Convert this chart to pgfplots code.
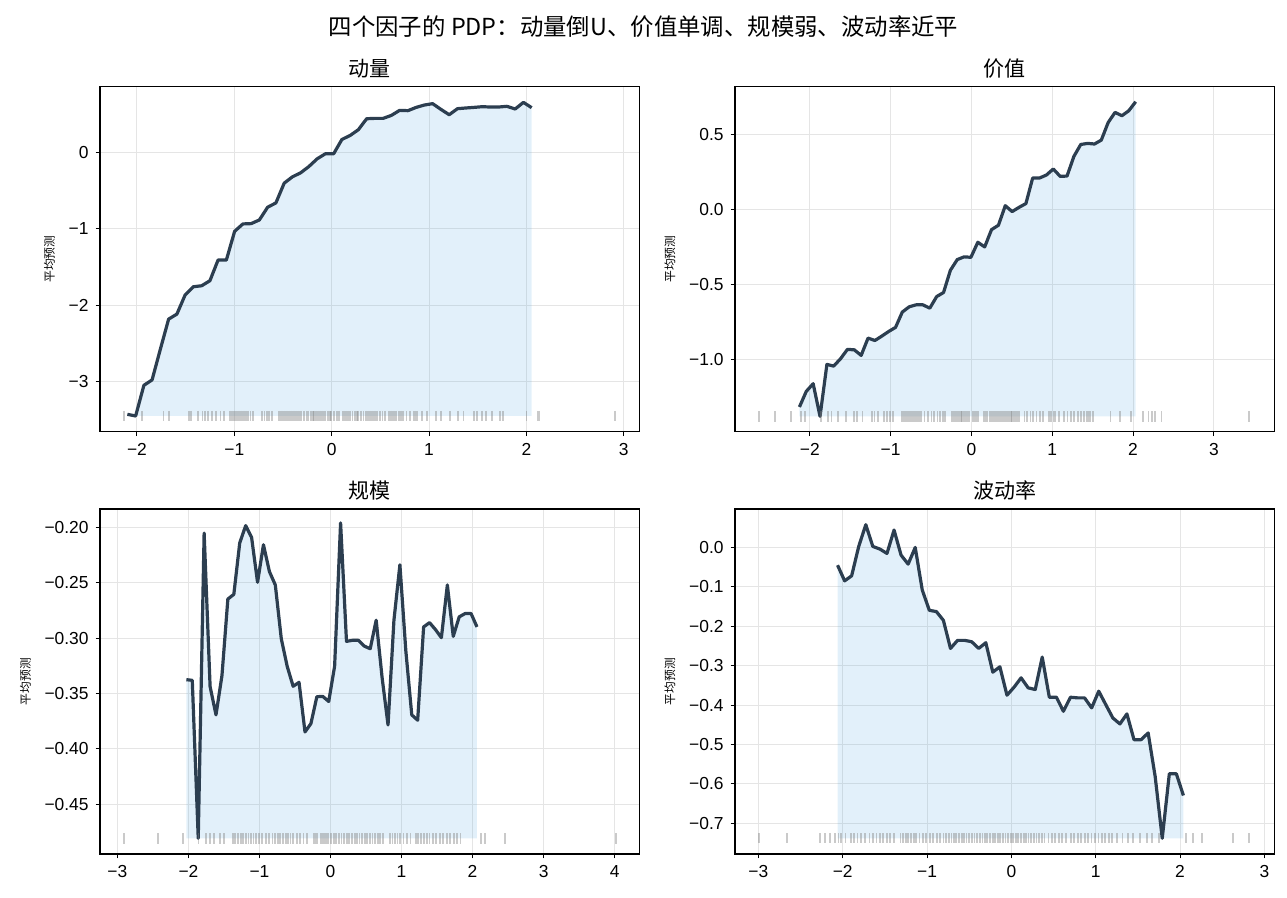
\documentclass[border=0pt]{standalone}
\usepackage{fontspec}
\setmainfont{Liberation Sans}
\newfontfamily\cjk{Noto Sans CJK SC}
\usepackage{pgfplots}
\pgfplotsset{compat=1.18}
\usepgfplotslibrary{fillbetween}
\usepackage{pgfplotstable}

\definecolor{linec}{HTML}{2C3E50}
\definecolor{fillc}{HTML}{3498DB}

\pgfplotstableread{
x y
-2.099 -3.434
-2.014 -3.456
-1.929 -3.053
-1.845 -2.982
-1.760 -2.579
-1.675 -2.184
-1.590 -2.118
-1.506 -1.868
-1.421 -1.759
-1.336 -1.746
-1.251 -1.680
-1.167 -1.408
-1.082 -1.408
-0.997 -1.031
-0.912 -0.934
-0.827 -0.930
-0.743 -0.882
-0.658 -0.715
-0.573 -0.658
-0.488 -0.399
-0.404 -0.316
-0.319 -0.263
-0.234 -0.180
-0.149 -0.079
-0.065 -0.013
0.020 -0.013
0.105 0.175
0.190 0.228
0.274 0.303
0.359 0.447
0.444 0.452
0.529 0.452
0.613 0.491
0.698 0.557
0.783 0.553
0.868 0.596
0.952 0.627
1.037 0.645
1.122 0.570
1.207 0.500
1.292 0.579
1.376 0.588
1.461 0.596
1.546 0.605
1.631 0.601
1.715 0.601
1.800 0.610
1.885 0.575
1.970 0.662
2.054 0.592
}\pa

\pgfplotstableread{
x y
-2.128 -1.314
-2.043 -1.210
-1.958 -1.159
-1.873 -1.376
-1.788 -1.031
-1.704 -1.042
-1.619 -0.993
-1.534 -0.931
-1.449 -0.934
-1.364 -0.971
-1.279 -0.856
-1.194 -0.872
-1.109 -0.843
-1.024 -0.812
-0.939 -0.785
-0.855 -0.683
-0.770 -0.648
-0.685 -0.635
-0.600 -0.635
-0.515 -0.657
-0.430 -0.580
-0.345 -0.553
-0.260 -0.405
-0.175 -0.334
-0.090 -0.316
-0.006 -0.319
0.079 -0.219
0.164 -0.250
0.249 -0.135
0.334 -0.106
0.419 0.024
0.504 -0.015
0.589 0.013
0.674 0.038
0.758 0.208
0.843 0.208
0.928 0.228
1.013 0.268
1.098 0.219
1.183 0.221
1.268 0.352
1.353 0.431
1.438 0.438
1.523 0.434
1.607 0.460
1.692 0.577
1.777 0.644
1.862 0.622
1.947 0.655
2.032 0.715
}\pb

\pgfplotstableread{
x y
-2.029 -0.3376
-1.946 -0.3382
-1.862 -0.4809
-1.779 -0.2052
-1.695 -0.3439
-1.612 -0.3694
-1.528 -0.3339
-1.445 -0.2648
-1.361 -0.2606
-1.278 -0.2142
-1.194 -0.1985
-1.111 -0.2091
-1.027 -0.2497
-0.944 -0.2158
-0.860 -0.2400
-0.777 -0.2521
-0.693 -0.3006
-0.610 -0.3255
-0.526 -0.3436
-0.443 -0.3400
-0.359 -0.3848
-0.276 -0.3773
-0.192 -0.3530
-0.109 -0.3527
-0.025 -0.3573
0.058 -0.3255
0.142 -0.1961
0.225 -0.3030
0.309 -0.3021
0.392 -0.3021
0.476 -0.3073
0.559 -0.3097
0.643 -0.2839
0.726 -0.3355
0.810 -0.3785
0.893 -0.2839
0.977 -0.2339
1.060 -0.3112
1.144 -0.3694
1.227 -0.3742
1.311 -0.2900
1.394 -0.2861
1.478 -0.2924
1.561 -0.2997
1.645 -0.2521
1.728 -0.2985
1.812 -0.2809
1.895 -0.2779
1.979 -0.2779
2.062 -0.2900
}\pc

\pgfplotstableread{
x y
-2.061 -0.0450
-1.977 -0.0848
-1.894 -0.0721
-1.810 0.0025
-1.726 0.0577
-1.643 0.0025
-1.559 -0.0042
-1.475 -0.0153
-1.391 0.0441
-1.308 -0.0195
-1.224 -0.0424
-1.140 0.0000
-1.057 -0.1077
-0.973 -0.1595
-0.889 -0.1628
-0.806 -0.1849
-0.722 -0.2562
-0.638 -0.2358
-0.554 -0.2358
-0.471 -0.2392
-0.387 -0.2562
-0.303 -0.2417
-0.220 -0.3164
-0.136 -0.3028
-0.052 -0.3749
0.032 -0.3545
0.115 -0.3308
0.199 -0.3562
0.283 -0.3605
0.366 -0.2782
0.450 -0.3800
0.534 -0.3800
0.617 -0.4156
0.701 -0.3800
0.785 -0.3817
0.868 -0.3817
0.952 -0.4071
1.036 -0.3647
1.119 -0.3986
1.203 -0.4326
1.287 -0.4478
1.370 -0.4224
1.454 -0.4877
1.538 -0.4877
1.622 -0.4707
1.705 -0.5810
1.789 -0.7379
1.873 -0.5742
1.956 -0.5742
2.040 -0.6293
}\pd

\pgfplotsset{
  pdp/.style={
    scale only axis, width=269.75pt, height=172.5pt, anchor=south west,
    axis line style={line width=0.6pt},
    tick align=outside, xtick pos=bottom, ytick pos=left,
    major tick length=2.2pt,
    tick style={line width=0.5pt, black},
    grid=major, grid style={black!10, line width=0.5pt},
    tick label style={font=\fontsize{8.7pt}{10pt}\selectfont},
    every axis title shift=0pt,
    title style={font=\cjk\fontsize{10.5pt}{12pt}\selectfont, at={(0.5,1)}, anchor=base, yshift=5.25pt},
    ylabel style={font=\cjk\fontsize{5.9pt}{7pt}\selectfont},
    ylabel={平均预测},
  },
  pdpline/.style={linec, line width=1.6pt, line join=round},
  rug/.style={only marks, mark=|, mark size=2.6pt, gray, opacity=0.42, mark options={line width=0.9pt}},
}

\begin{document}
\begin{tikzpicture}
\path (0,0) rectangle (643.5pt,449pt);
\node[font=\cjk\fontsize{11.7pt}{14pt}\selectfont, anchor=base] at (321.75pt,431.3pt) {四个因子的 PDP：动量倒U、价值单调、规模弱、波动率近平};

% Panel 1
\begin{axis}[pdp, at={(50pt,233.15pt)},
  xmin=-2.380, xmax=3.162, ymin=-3.662, ymax=0.868,
  xtick={-2,-1,0,1,2,3}, xticklabels={−2,−1,0,1,2,3},
  ytick={-3,-2,-1,0}, yticklabels={−3,−2,−1,0},
  title={动量}]
\addplot[draw=none, name path=la] table {\pa};
\addplot[draw=none, name path=ba] coordinates {(-2.099,-3.456) (2.054,-3.456)};
\addplot[fillc, fill opacity=0.14] fill between[of=la and ba];
\addplot[rug] coordinates {
(-2.135,-3.456) (-1.950,-3.456) (-1.727,-3.456) (-1.674,-3.456) (-1.462,-3.456) (-1.444,-3.456) (-1.373,-3.456) (-1.327,-3.456)
(-1.302,-3.456) (-1.274,-3.456) (-1.232,-3.456) (-1.189,-3.456) (-1.143,-3.456) (-1.108,-3.456) (-1.044,-3.456) (-1.026,-3.456)
(-1.001,-3.456) (-0.984,-3.456) (-0.966,-3.456) (-0.948,-3.456) (-0.931,-3.456) (-0.913,-3.456) (-0.895,-3.456) (-0.877,-3.456)
(-0.860,-3.456) (-0.835,-3.456) (-0.807,-3.456) (-0.718,-3.456) (-0.690,-3.456) (-0.665,-3.456) (-0.647,-3.456) (-0.612,-3.456)
(-0.541,-3.456) (-0.523,-3.456) (-0.506,-3.456) (-0.488,-3.456) (-0.470,-3.456) (-0.453,-3.456) (-0.435,-3.456) (-0.417,-3.456)
(-0.399,-3.456) (-0.382,-3.456) (-0.364,-3.456) (-0.346,-3.456) (-0.329,-3.456) (-0.311,-3.456) (-0.283,-3.456) (-0.258,-3.456)
(-0.240,-3.456) (-0.215,-3.456) (-0.194,-3.456) (-0.180,-3.456) (-0.159,-3.456) (-0.141,-3.456) (-0.116,-3.456) (-0.098,-3.456)
(-0.081,-3.456) (-0.063,-3.456) (-0.038,-3.456) (-0.017,-3.456) (-0.003,-3.456) (0.025,-3.456) (0.054,-3.456) (0.079,-3.456)
(0.114,-3.456) (0.132,-3.456) (0.149,-3.456) (0.167,-3.456) (0.192,-3.456) (0.213,-3.456) (0.238,-3.456) (0.256,-3.456)
(0.273,-3.456) (0.298,-3.456) (0.326,-3.456) (0.351,-3.456) (0.373,-3.456) (0.397,-3.456) (0.415,-3.456) (0.433,-3.456)
(0.450,-3.456) (0.468,-3.456) (0.493,-3.456) (0.521,-3.456) (0.550,-3.456) (0.592,-3.456) (0.610,-3.456) (0.627,-3.456)
(0.645,-3.456) (0.663,-3.456) (0.691,-3.456) (0.709,-3.456) (0.734,-3.456) (0.769,-3.456) (0.805,-3.456) (0.840,-3.456)
(0.858,-3.456) (0.875,-3.456) (0.928,-3.456) (0.975,-3.456) (1.070,-3.456) (1.123,-3.456) (1.212,-3.456) (1.300,-3.456)
(1.353,-3.456) (1.460,-3.456) (1.495,-3.456) (1.541,-3.456) (1.584,-3.456) (1.644,-3.456) (1.725,-3.456) (1.761,-3.456)
(2.001,-3.456) (2.115,-3.456) (2.132,-3.456) (2.911,-3.456)};
\addplot[pdpline] table {\pa};
\end{axis}

% Panel 2
\begin{axis}[pdp, at={(367.5pt,233.15pt)},
  xmin=-2.925, xmax=3.75, ymin=-1.478, ymax=0.815,
  xtick={-2,-1,0,1,2,3}, xticklabels={−2,−1,0,1,2,3},
  ytick={-1,-0.5,0,0.5}, yticklabels={−1.0,−0.5,0.0,0.5},
  title={价值}]
\addplot[draw=none, name path=lb] table {\pb};
\addplot[draw=none, name path=bb] coordinates {(-2.128,-1.376) (2.032,-1.376)};
\addplot[fillc, fill opacity=0.14] fill between[of=lb and bb];
\addplot[rug] coordinates {
(-2.627,-1.376) (-2.426,-1.376) (-2.230,-1.376) (-2.107,-1.376) (-2.060,-1.376) (-1.859,-1.376) (-1.774,-1.376) (-1.731,-1.376)
(-1.646,-1.376) (-1.552,-1.376) (-1.454,-1.376) (-1.412,-1.376) (-1.348,-1.376) (-1.233,-1.376) (-1.199,-1.376) (-1.156,-1.376)
(-1.084,-1.376) (-1.049,-1.376) (-1.007,-1.376) (-0.973,-1.376) (-0.858,-1.376) (-0.836,-1.376) (-0.815,-1.376) (-0.794,-1.376)
(-0.772,-1.376) (-0.751,-1.376) (-0.730,-1.376) (-0.708,-1.376) (-0.687,-1.376) (-0.666,-1.376) (-0.644,-1.376) (-0.623,-1.376)
(-0.581,-1.376) (-0.538,-1.376) (-0.495,-1.376) (-0.461,-1.376) (-0.419,-1.376) (-0.389,-1.376) (-0.355,-1.376) (-0.325,-1.376)
(-0.240,-1.376) (-0.218,-1.376) (-0.197,-1.376) (-0.176,-1.376) (-0.154,-1.376) (-0.133,-1.376) (-0.112,-1.376) (-0.090,-1.376)
(-0.069,-1.376) (-0.048,-1.376) (-0.026,-1.376) (0.016,-1.376) (0.038,-1.376) (0.059,-1.376) (0.080,-1.376) (0.153,-1.376)
(0.178,-1.376) (0.199,-1.376) (0.229,-1.376) (0.251,-1.376) (0.272,-1.376) (0.293,-1.376) (0.315,-1.376) (0.336,-1.376)
(0.357,-1.376) (0.379,-1.376) (0.400,-1.376) (0.421,-1.376) (0.442,-1.376) (0.464,-1.376) (0.485,-1.376) (0.506,-1.376)
(0.528,-1.376) (0.549,-1.376) (0.570,-1.376) (0.592,-1.376) (0.656,-1.376) (0.690,-1.376) (0.732,-1.376) (0.762,-1.376)
(0.805,-1.376) (0.847,-1.376) (0.890,-1.376) (0.963,-1.376) (0.988,-1.376) (1.018,-1.376) (1.039,-1.376) (1.082,-1.376)
(1.146,-1.376) (1.188,-1.376) (1.231,-1.376) (1.274,-1.376) (1.316,-1.376) (1.359,-1.376) (1.389,-1.376) (1.423,-1.376)
(1.444,-1.376) (1.465,-1.376) (1.508,-1.376) (1.721,-1.376) (1.836,-1.376) (1.977,-1.376) (2.126,-1.376) (2.190,-1.376)
(2.233,-1.376) (2.267,-1.376) (2.352,-1.376) (3.439,-1.376)};
\addplot[pdpline] table {\pb};
\end{axis}

% Panel 3
\begin{axis}[pdp, at={(50pt,22pt)},
  xmin=-3.245, xmax=4.35, ymin=-0.495, ymax=-0.1835,
  xtick={-3,-2,-1,0,1,2,3,4}, xticklabels={−3,−2,−1,0,1,2,3,4},
  ytick={-0.45,-0.4,-0.35,-0.3,-0.25,-0.2}, yticklabels={−0.45,−0.40,−0.35,−0.30,−0.25,−0.20},
  title={规模}]
\addplot[draw=none, name path=lc] table {\pc};
\addplot[draw=none, name path=bc] coordinates {(-2.029,-0.4809) (2.062,-0.4809)};
\addplot[fillc, fill opacity=0.14] fill between[of=lc and bc];
\addplot[rug] coordinates {
(-2.903,-0.4809) (-2.427,-0.4809) (-2.078,-0.4809) (-1.859,-0.4809) (-1.748,-0.4809) (-1.699,-0.4809) (-1.641,-0.4809) (-1.553,-0.4809)
(-1.495,-0.4809) (-1.374,-0.4809) (-1.340,-0.4809) (-1.301,-0.4809) (-1.262,-0.4809) (-1.228,-0.4809) (-1.194,-0.4809) (-1.155,-0.4809)
(-1.117,-0.4809) (-1.083,-0.4809) (-1.049,-0.4809) (-1.010,-0.4809) (-0.961,-0.4809) (-0.913,-0.4809) (-0.864,-0.4809) (-0.816,-0.4809)
(-0.777,-0.4809) (-0.743,-0.4809) (-0.709,-0.4809) (-0.670,-0.4809) (-0.631,-0.4809) (-0.597,-0.4809) (-0.563,-0.4809) (-0.524,-0.4809)
(-0.476,-0.4809) (-0.427,-0.4809) (-0.379,-0.4809) (-0.330,-0.4809) (-0.233,-0.4809) (-0.209,-0.4809) (-0.184,-0.4809) (-0.136,-0.4809)
(-0.112,-0.4809) (-0.087,-0.4809) (-0.063,-0.4809) (-0.039,-0.4809) (0.010,-0.4809) (0.049,-0.4809) (0.083,-0.4809) (0.117,-0.4809)
(0.155,-0.4809) (0.194,-0.4809) (0.228,-0.4809) (0.262,-0.4809) (0.301,-0.4809) (0.340,-0.4809) (0.374,-0.4809) (0.408,-0.4809)
(0.447,-0.4809) (0.485,-0.4809) (0.519,-0.4809) (0.553,-0.4809) (0.592,-0.4809) (0.631,-0.4809) (0.665,-0.4809) (0.699,-0.4809)
(0.738,-0.4809) (0.835,-0.4809) (0.874,-0.4809) (0.908,-0.4809) (0.942,-0.4809) (0.981,-0.4809) (1.029,-0.4809) (1.078,-0.4809)
(1.126,-0.4809) (1.199,-0.4809) (1.233,-0.4809) (1.272,-0.4809) (1.320,-0.4809) (1.359,-0.4809) (1.393,-0.4809) (1.442,-0.4809)
(1.490,-0.4809) (1.539,-0.4809) (1.587,-0.4809) (1.636,-0.4809) (1.684,-0.4809) (1.733,-0.4809) (1.782,-0.4809) (1.830,-0.4809)
(2.121,-0.4809) (2.170,-0.4809) (2.461,-0.4809) (4.015,-0.4809)};
\addplot[pdpline] table {\pc};
\end{axis}

% Panel 4
\begin{axis}[pdp, at={(367.5pt,22pt)},
  xmin=-3.277, xmax=3.12, ymin=-0.7777, ymax=0.0975,
  xtick={-3,-2,-1,0,1,2,3}, xticklabels={−3,−2,−1,0,1,2,3},
  ytick={-0.7,-0.6,-0.5,-0.4,-0.3,-0.2,-0.1,0}, yticklabels={−0.7,−0.6,−0.5,−0.4,−0.3,−0.2,−0.1,0.0},
  title={波动率}]
\addplot[draw=none, name path=ld] table {\pd};
\addplot[draw=none, name path=bd] coordinates {(-2.061,-0.7379) (2.040,-0.7379)};
\addplot[fillc, fill opacity=0.14] fill between[of=ld and bd];
\addplot[rug] coordinates {
(-2.988,-0.7379) (-2.661,-0.7379) (-2.273,-0.7379) (-2.212,-0.7379) (-2.151,-0.7379) (-2.090,-0.7379) (-2.049,-0.7379) (-2.016,-0.7379)
(-1.967,-0.7379) (-1.906,-0.7379) (-1.865,-0.7379) (-1.824,-0.7379) (-1.784,-0.7379) (-1.731,-0.7379) (-1.682,-0.7379) (-1.641,-0.7379)
(-1.600,-0.7379) (-1.559,-0.7379) (-1.518,-0.7379) (-1.478,-0.7379) (-1.437,-0.7379) (-1.396,-0.7379) (-1.314,-0.7379) (-1.282,-0.7379)
(-1.253,-0.7379) (-1.224,-0.7379) (-1.192,-0.7379) (-1.159,-0.7379) (-1.131,-0.7379) (-1.090,-0.7379) (-1.049,-0.7379) (-1.008,-0.7379)
(-0.967,-0.7379) (-0.927,-0.7379) (-0.886,-0.7379) (-0.845,-0.7379) (-0.804,-0.7379) (-0.776,-0.7379) (-0.743,-0.7379) (-0.710,-0.7379)
(-0.682,-0.7379) (-0.653,-0.7379) (-0.620,-0.7379) (-0.588,-0.7379) (-0.559,-0.7379) (-0.531,-0.7379) (-0.498,-0.7379) (-0.465,-0.7379)
(-0.437,-0.7379) (-0.408,-0.7379) (-0.376,-0.7379) (-0.343,-0.7379) (-0.314,-0.7379) (-0.286,-0.7379) (-0.253,-0.7379) (-0.220,-0.7379)
(-0.192,-0.7379) (-0.163,-0.7379) (-0.131,-0.7379) (-0.098,-0.7379) (-0.069,-0.7379) (-0.041,-0.7379) (-0.008,-0.7379) (0.024,-0.7379)
(0.053,-0.7379) (0.082,-0.7379) (0.114,-0.7379) (0.147,-0.7379) (0.176,-0.7379) (0.204,-0.7379) (0.237,-0.7379) (0.269,-0.7379)
(0.298,-0.7379) (0.327,-0.7379) (0.359,-0.7379) (0.392,-0.7379) (0.441,-0.7379) (0.482,-0.7379) (0.522,-0.7379) (0.563,-0.7379)
(0.604,-0.7379) (0.645,-0.7379) (0.706,-0.7379) (0.747,-0.7379) (0.788,-0.7379) (0.829,-0.7379) (0.869,-0.7379) (0.910,-0.7379)
(0.951,-0.7379) (0.992,-0.7379) (1.033,-0.7379) (1.073,-0.7379) (1.114,-0.7379) (1.155,-0.7379) (1.196,-0.7379) (1.257,-0.7379)
(1.318,-0.7379) (1.380,-0.7379) (1.441,-0.7379) (1.522,-0.7379) (1.604,-0.7379) (1.665,-0.7379) (1.747,-0.7379) (2.073,-0.7379)
(2.155,-0.7379) (2.257,-0.7379) (2.624,-0.7379) (2.820,-0.7379)};
\addplot[pdpline] table {\pd};
\end{axis}
\end{tikzpicture}
\end{document}
